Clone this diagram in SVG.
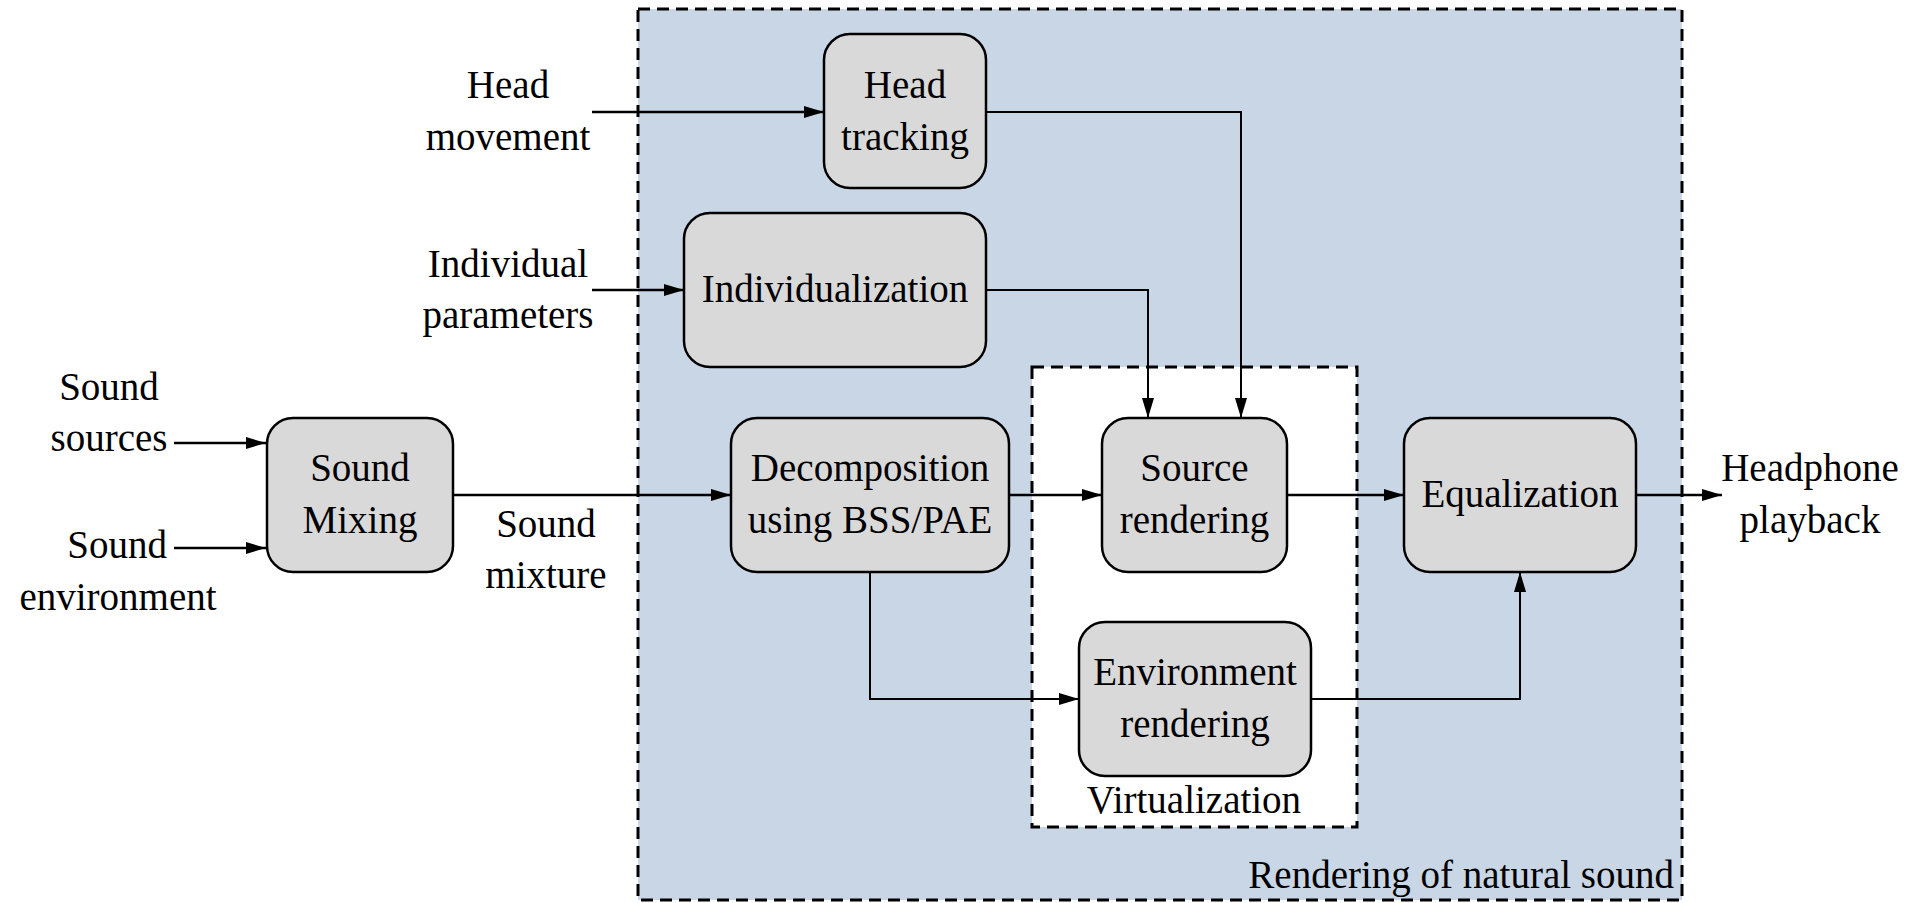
<svg xmlns="http://www.w3.org/2000/svg" width="1907" height="903" viewBox="0 0 1907 903" font-family="'Liberation Serif', 'Times New Roman', 'DejaVu Serif', serif" font-size="39">
  <style>
    text { font-family: "Liberation Serif", "Times New Roman", "DejaVu Serif", serif; font-size: 39px; fill: #000; }
    .c { text-anchor: middle; }
    .r { text-anchor: end; }
    .box { fill: #D9D9D9; stroke: #000; stroke-width: 2.5; }
    .frame { stroke: #000; stroke-width: 3; stroke-dasharray: 12 7; }
    .wire { fill: none; stroke: #000; stroke-width: 2.5; }
    .thin { fill: none; stroke: #000; stroke-width: 2; }
  </style>
  <defs>
    <marker id="arrow" markerUnits="userSpaceOnUse" markerWidth="21" markerHeight="14" refX="20" refY="7" orient="auto">
      <path d="M0,1 L20,7 L0,13 z" fill="#000"/>
    </marker>
  </defs>

  <rect width="1907" height="903" fill="#fff"/>

  <!-- Rendering of natural sound (outer region) -->
  <g id="region-rendering">
    <rect class="frame" x="638" y="9" width="1044" height="891" fill="#C9D6E5"/>
    <text class="r" x="1674" y="888">Rendering of natural sound</text>
  </g>

  <!-- Virtualization (inner region) -->
  <g id="region-virtualization">
    <rect class="frame" x="1032" y="367" width="325" height="460" fill="#fff"/>
    <text class="c" x="1194" y="813">Virtualization</text>
  </g>

  <!-- Connectors -->
  <g id="connectors">
    <path class="wire" d="M174,443 L266,443" marker-end="url(#arrow)"/>
    <path class="wire" d="M174,548 L266,548" marker-end="url(#arrow)"/>
    <path class="wire" d="M453,495 L731,495" marker-end="url(#arrow)"/>
    <path class="wire" d="M592,112 L824,112" marker-end="url(#arrow)"/>
    <path class="wire" d="M592,290 L684,290" marker-end="url(#arrow)"/>
    <path class="thin" d="M986,112 L1241,112 L1241,418" marker-end="url(#arrow)"/>
    <path class="thin" d="M986,290 L1148,290 L1148,418" marker-end="url(#arrow)"/>
    <path class="wire" d="M1009,495 L1102,495" marker-end="url(#arrow)"/>
    <path class="wire" d="M1287,495 L1404,495" marker-end="url(#arrow)"/>
    <path class="wire" d="M1636,495 L1722,495" marker-end="url(#arrow)"/>
    <path class="thin" d="M870,572 L870,699 L1079,699" marker-end="url(#arrow)"/>
    <path class="thin" d="M1311,699 L1520,699 L1520,572" marker-end="url(#arrow)"/>
  </g>

  <!-- External labels -->
  <g id="label-sound-sources">
    <text class="c" x="109" y="400">Sound</text>
    <text class="c" x="109" y="451">sources</text>
  </g>
  <g id="label-sound-environment">
    <text class="r" x="167" y="558">Sound</text>
    <text class="c" x="118" y="610">environment</text>
  </g>
  <g id="label-head-movement">
    <text class="c" x="508" y="98">Head</text>
    <text class="c" x="508" y="150">movement</text>
  </g>
  <g id="label-individual-parameters">
    <text class="c" x="508" y="277">Individual</text>
    <text class="c" x="508" y="328">parameters</text>
  </g>
  <g id="label-sound-mixture">
    <text class="c" x="546" y="537">Sound</text>
    <text class="c" x="546" y="588">mixture</text>
  </g>
  <g id="label-headphone-playback">
    <text class="c" x="1810" y="481">Headphone</text>
    <text class="c" x="1810" y="533">playback</text>
  </g>

  <!-- Processing blocks -->
  <g id="node-sound-mixing">
    <rect class="box" x="267" y="418" width="186" height="154" rx="26"/>
    <text class="c" x="360" y="481">Sound</text>
    <text class="c" x="360" y="533">Mixing</text>
  </g>
  <g id="node-head-tracking">
    <rect class="box" x="824" y="34" width="162" height="154" rx="26"/>
    <text class="c" x="905" y="98">Head</text>
    <text class="c" x="905" y="150">tracking</text>
  </g>
  <g id="node-individualization">
    <rect class="box" x="684" y="213" width="302" height="154" rx="26"/>
    <text class="c" x="835" y="302">Individualization</text>
  </g>
  <g id="node-decomposition">
    <rect class="box" x="731" y="418" width="278" height="154" rx="26"/>
    <text class="c" x="870" y="481">Decomposition</text>
    <text class="c" x="870" y="533">using BSS/PAE</text>
  </g>
  <g id="node-source-rendering">
    <rect class="box" x="1102" y="418" width="185" height="154" rx="26"/>
    <text class="c" x="1194.5" y="481">Source</text>
    <text class="c" x="1194.5" y="533">rendering</text>
  </g>
  <g id="node-environment-rendering">
    <rect class="box" x="1079" y="622" width="232" height="154" rx="26"/>
    <text class="c" x="1195" y="685">Environment</text>
    <text class="c" x="1195" y="737">rendering</text>
  </g>
  <g id="node-equalization">
    <rect class="box" x="1404" y="418" width="232" height="154" rx="26"/>
    <text class="c" x="1520" y="507">Equalization</text>
  </g>
</svg>
